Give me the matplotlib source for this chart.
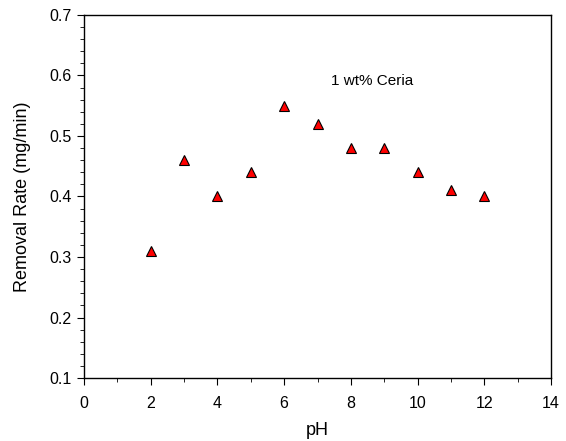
import matplotlib
matplotlib.use("Agg")
import matplotlib.pyplot as plt
from matplotlib.ticker import MultipleLocator, FormatStrFormatter

plt.rcParams['font.family'] = ['Liberation Sans', 'DejaVu Sans']

ph = [2, 3, 4, 5, 6, 7, 8, 9, 10, 11, 12]
removal_rate = [0.31, 0.46, 0.40, 0.44, 0.55, 0.52, 0.48, 0.48, 0.44, 0.41, 0.40]

fig = plt.figure(figsize=(5.66, 4.41), dpi=100)
ax = fig.add_axes([84/566, 1 - 378/441, (551-84)/566, (378-15)/441])

ax.plot(ph, removal_rate, linestyle='none', marker='^', markersize=7.5,
        markerfacecolor='#ff0000', markeredgecolor='black', markeredgewidth=0.8)

ax.set_xlim(0, 14)
ax.set_ylim(0.1, 0.7)
ax.xaxis.set_major_locator(MultipleLocator(2))
ax.xaxis.set_minor_locator(MultipleLocator(1))
ax.yaxis.set_major_locator(MultipleLocator(0.1))
ax.yaxis.set_minor_locator(MultipleLocator(0.02))
ax.yaxis.set_major_formatter(FormatStrFormatter('%.1f'))
ax.tick_params(which='both', direction='out', top=False, right=False, labelsize=11.5)
ax.tick_params(which='major', length=5)
ax.tick_params(which='minor', length=3)
ax.tick_params(axis='x', which='major', pad=8)
ax.tick_params(axis='y', which='major', pad=4)
for s in ax.spines.values():
    s.set_linewidth(1.0)

ax.set_xlabel('pH', fontsize=13, labelpad=8)
ax.set_ylabel('Removal Rate (mg/min)', fontsize=13, labelpad=13)
ax.text(8.63, 0.591, '1 wt% Ceria', fontsize=11, ha='center', va='center')

fig.savefig('out.png', dpi=100)
